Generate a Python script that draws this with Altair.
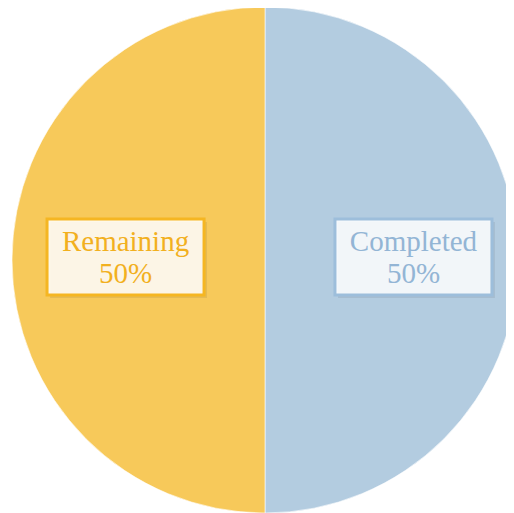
import altair as alt
import pandas as pd

categories = ["Completed", "Remaining"]
values = [50, 50]

pie_colors = ["#B3CCE0", "#F7C95A"]
border_colors = ["#9DBEDB", "#F5B622"]
text_colors = ["#93B5D5", "#F2B01E"]

df = pd.DataFrame({"category": categories, "value": values,
                   "idx": list(range(len(categories)))})

W, H = 498, 505
CX, CY = 257, 252
R = 253
label_r = 0.569
bw = 78.5 / R
bh = 38 / R
SHIFT = 4.5

base = alt.Chart(df)

pie = base.mark_arc(outerRadius=R, stroke="white", strokeWidth=0.6).encode(
    x=alt.value(CX),
    y=alt.value(CY),
    theta=alt.Theta("value:Q", stack=True),
    color=alt.Color("category:N", scale=alt.Scale(domain=categories, range=pie_colors), legend=None),
    order=alt.Order("idx:Q"),
)

labels = base.transform_joinaggregate(
    total="sum(value)"
).transform_window(
    cum="sum(value)", sort=[alt.SortField("idx")], frame=[None, 0]
).transform_calculate(
    mid="(datum.cum - datum.value / 2) / datum.total * 2 * PI",
).transform_calculate(
    lx=f"{label_r} * sin(datum.mid)",
    ly=f"{label_r} * cos(datum.mid)",
).transform_calculate(
    bx1=f"datum.lx - {bw}",
    bx2=f"datum.lx + {bw}",
    by1=f"datum.ly - {bh}",
    by2=f"datum.ly + {bh}",
    lines="[datum.category, format(datum.value / datum.total, '.0%')]",
)

xs = alt.Scale(domain=[-1, 1], range=[CX - R, CX + R], nice=False, zero=False)
ys = alt.Scale(domain=[-1, 1], range=[CY + R, CY - R], nice=False, zero=False)

shadow = labels.mark_rect(color="black", opacity=0.07, xOffset=SHIFT + 3, x2Offset=SHIFT + 3,
                          yOffset=0, y2Offset=0).encode(
    x=alt.X("bx1:Q", scale=xs, axis=None),
    x2="bx2:Q",
    y=alt.Y("by1:Q", scale=ys, axis=None),
    y2="by2:Q",
)

box = labels.mark_rect(fill="white", fillOpacity=0.86, strokeWidth=3,
                       xOffset=SHIFT, x2Offset=SHIFT, yOffset=-3, y2Offset=-3).encode(
    x=alt.X("bx1:Q", scale=xs, axis=None),
    x2="bx2:Q",
    y=alt.Y("by1:Q", scale=ys, axis=None),
    y2="by2:Q",
    stroke=alt.Stroke("category:N", scale=alt.Scale(domain=categories, range=border_colors), legend=None),
)

text = labels.mark_text(font="Liberation Serif", fontSize=29, lineHeight=32, dx=SHIFT, dy=-18,
                        align="center", baseline="middle").encode(
    x=alt.X("lx:Q", scale=xs, axis=None),
    y=alt.Y("ly:Q", scale=ys, axis=None),
    text=alt.Text("lines:N"),
    fill=alt.Fill("category:N", scale=alt.Scale(domain=categories, range=text_colors), legend=None),
)

chart = alt.layer(pie, shadow, box, text).properties(
    width=W, height=H, padding=0,
    autosize=alt.AutoSizeParams(type="none"),
).configure_view(stroke=None)

chart.save("out.html", embed_options={"renderer": "svg", "actions": False})
